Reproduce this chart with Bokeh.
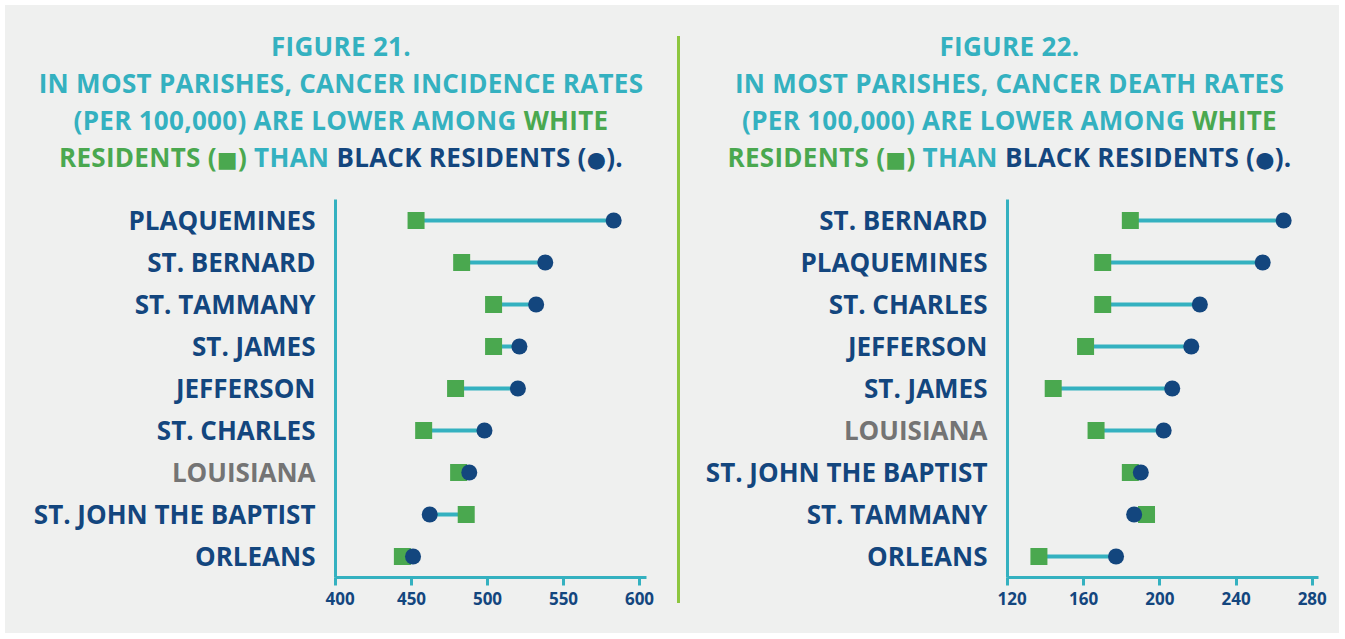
from bokeh.plotting import figure
from bokeh.models import ColumnDataSource, FactorRange, Range1d, FixedTicker, Div, Spacer
from bokeh.layouts import row, column
from bokeh.core.properties import value
from bokeh.embed import file_html
from bokeh.resources import INLINE

# ---- data ----
parishes_21 = ["PLAQUEMINES", "ST. BERNARD", "ST. TAMMANY", "ST. JAMES", "JEFFERSON",
               "ST. CHARLES", "LOUISIANA", "ST. JOHN THE BAPTIST", "ORLEANS"]
white_21 = [453, 483, 504, 504, 479, 458, 481, 486, 444]
black_21 = [583, 538, 532, 521, 520, 498, 488, 462, 451]
ticks_21 = [400, 450, 500, 550, 600]

parishes_22 = ["ST. BERNARD", "PLAQUEMINES", "ST. CHARLES", "JEFFERSON", "ST. JAMES",
               "LOUISIANA", "ST. JOHN THE BAPTIST", "ST. TAMMANY", "ORLEANS"]
white_22 = [184.5, 170, 170, 161, 144, 166.5, 184.5, 193, 136.5]
black_22 = [265, 254, 221, 216.5, 206.5, 202, 190, 186.5, 177]
ticks_22 = [120, 160, 200, 240, 280]

# ---- style ----
BG = "#eff0ef"
CYAN = "#34b1c0"
GREEN = "#4aa84f"
NAVY = "#13467e"
GRAY = "#747474"
LIME = "#8dc63f"
FONT = "Open Sans"
FONT_V = value(FONT)

FIG_H = 455
TOP = 21
BOTTOM = 56


def label_fig(cats, width, y_range):
    colors = [GRAY if c == "LOUISIANA" else NAVY for c in cats]
    src = ColumnDataSource(dict(cat=cats, color=colors, lx=[1.0] * len(cats)))
    p = figure(width=width, height=FIG_H, y_range=y_range, x_range=Range1d(0, 1),
               output_backend="svg", toolbar_location=None,
               min_border_left=0, min_border_right=0,
               min_border_top=TOP, min_border_bottom=BOTTOM)
    p.background_fill_color = BG
    p.border_fill_color = BG
    p.outline_line_color = None
    p.axis.visible = False
    p.grid.visible = False
    p.text(x="lx", y="cat", text="cat", source=src, x_offset=-10, y_offset=-1,
           text_align="right", text_baseline="middle", text_color="color",
           text_font=FONT_V, text_font_size="26px", text_font_style="bold")
    return p


def make_panel(cats, white, black, ticks, xstart, xend, width):
    src = ColumnDataSource(dict(cat=cats, white=white, black=black))
    y_range = FactorRange(factors=list(reversed(cats)), range_padding=0)
    p = figure(width=width, height=FIG_H,
               y_range=y_range, x_range=Range1d(xstart, xend),
               output_backend="svg", toolbar_location=None,
               min_border_left=10, min_border_right=width - 10 - 311,
               min_border_top=TOP, min_border_bottom=BOTTOM)
    p.background_fill_color = BG
    p.border_fill_color = BG
    p.outline_line_color = None
    p.xgrid.visible = False
    p.ygrid.visible = False

    p.segment(x0="white", x1="black", y0="cat", y1="cat", source=src,
              line_color=CYAN, line_width=4)
    p.scatter(x="white", y="cat", source=src, marker="square", size=17,
              fill_color=GREEN, line_color=None)
    p.scatter(x="black", y="cat", source=src, marker="circle", size=16,
              fill_color=NAVY, line_color=None)

    xa = p.xaxis[0]
    xa.ticker = FixedTicker(ticks=ticks)
    xa.axis_line_color = CYAN
    xa.axis_line_width = 3
    xa.major_tick_line_color = CYAN
    xa.major_tick_line_width = 3
    xa.major_tick_out = 8
    xa.major_tick_in = 0
    xa.minor_tick_line_color = None
    xa.major_label_text_font = FONT
    xa.major_label_text_font_style = "bold"
    xa.major_label_text_font_size = "17px"
    xa.major_label_text_color = NAVY
    xa.major_label_standoff = 6

    ya = p.yaxis[0]
    ya.axis_line_color = CYAN
    ya.axis_line_width = 3
    ya.major_tick_line_color = None
    ya.major_tick_out = 0
    ya.major_tick_in = 0
    ya.minor_tick_line_color = None
    ya.minor_tick_out = 0
    ya.major_label_standoff = 0
    ya.major_label_text_font_size = "0px"
    ya.major_label_text_color = None
    return p, y_range


def title_div(num, what, width, pad_left):
    sym = "font-family:'DejaVu Sans';font-size:22px;line-height:0;"
    html = (
        f'<div style="font-family:\'{FONT}\';font-weight:700;font-size:26px;'
        f'letter-spacing:0.3px;line-height:37px;text-align:center;color:{CYAN};'
        f'padding-top:23px;padding-left:{pad_left}px;width:{width - pad_left}px;'
        f'white-space:nowrap;">'
        f'FIGURE {num}.<br>'
        f'IN MOST PARISHES, CANCER {what} RATES<br>'
        f'(PER 100,000) ARE LOWER AMONG <span style="color:{GREEN}">WHITE</span><br>'
        f'<span style="color:{GREEN}">RESIDENTS (<span style="{sym}">&#9632;</span>)</span> THAN '
        f'<span style="color:{NAVY}">BLACK RESIDENTS (<span style="{sym}">&#9679;</span>).</span>'
        f'</div>'
    )
    return Div(text=html, width=width, height=173,
               styles={"background-color": BG, "margin": "0", "padding": "0"})


# left panel: page x 5..677
p1, yr1 = make_panel(parishes_21, white_21, black_21, ticks_21, 400, 604.6, 352)
l1 = label_fig(parishes_21, 320, yr1)
t1 = title_div(21, "INCIDENCE", 672, 0)

# right panel: page x 680..1339
p2, yr2 = make_panel(parishes_22, white_22, black_22, ticks_22, 120, 283.3, 342)
l2 = label_fig(parishes_22, 317, yr2)
t2 = title_div(22, "DEATH", 659, 8)

divider = Div(text=f'<div style="margin-top:31px;width:3px;height:567px;background:{LIME};"></div>',
              width=3, height=173 + FIG_H,
              styles={"background-color": BG, "margin": "0", "padding": "0"})

body = row(column(t1, row(l1, p1, spacing=0), spacing=0), divider,
           column(t2, row(l2, p2, spacing=0), spacing=0), spacing=0,
           styles={"background-color": BG})

layout = column(Spacer(width=5, height=5), row(Spacer(width=5, height=5), body, spacing=0),
                spacing=0)

open("out.html", "w").write(file_html(layout, INLINE))
